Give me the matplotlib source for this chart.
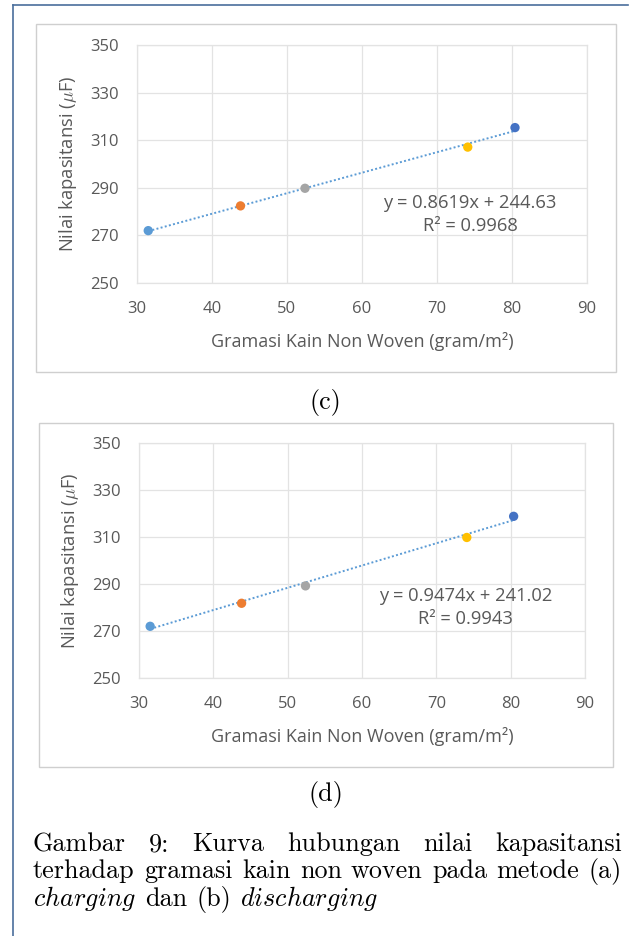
import matplotlib
matplotlib.use("Agg")
import matplotlib.pyplot as plt
from matplotlib.patches import Rectangle
from matplotlib.lines import Line2D
import numpy as np

# ---------------- data ----------------
gramasi = [31.5, 43.8, 52.4, 74.1, 80.4]
cap_c = [272.0, 282.4, 289.8, 307.1, 315.3]
cap_d = [272.0, 281.8, 289.2, 309.8, 318.8]
point_colors = ["#5B9BD5", "#ED7D31", "#A5A5A5", "#FFC000", "#4472C4"]
fit_c = (0.8619, 244.63)
fit_d = (0.9474, 241.02)
eq_c = ["y = 0.8619x + 244.63", "R² = 0.9968"]
eq_d = ["y = 0.9474x + 241.02", "R² = 0.9943"]
x_ticks = [30, 40, 50, 60, 70, 80, 90]
y_ticks = [250, 270, 290, 310, 330, 350]
xlabel = "Gramasi Kain Non Woven (gram/m²)"
ylabel = "Nilai kapasitansi ($\\mu$F)"
panel_labels = ["(c)", "(d)"]
caption_lines = [
    "Gambar 9: Kurva hubungan nilai kapasitansi",
    "terhadap gramasi kain non woven pada metode (a)",
]
caption_last = ["$\\mathit{charging}$", "dan", "(b)", "$\\mathit{discharging}$"]

W, H = 629, 936
DPI = 100
plt.rcParams["mathtext.fontset"] = "cm"
fig = plt.figure(figsize=(W / DPI, H / DPI), dpi=DPI)
fig.patch.set_facecolor("white")

def fx(px):
    return px / W

def fy(py):
    return 1 - py / H

# outer frame (left, top)
frame_col = "#4a6e9c"
fig.add_artist(Line2D([fx(13), fx(13)], [0, fy(5)], color=frame_col, lw=1.2, transform=fig.transFigure))
fig.add_artist(Line2D([fx(13), fx(628)], [fy(5), fy(5)], color=frame_col, lw=1.2, transform=fig.transFigure))

GRID = "#e3e3e3"
TXT = "#595959"
CHART_FONT = "Open Sans"

def panel(box, plot, yvals, fit, eq, eq_pos):
    bl, bt, br, bb = box
    fig.add_artist(Rectangle((fx(bl), fy(bb)), fx(br) - fx(bl), fy(bt) - fy(bb),
                             transform=fig.transFigure, fill=False,
                             edgecolor="#cfcfcf", lw=1.0))
    l, t, r, b = plot
    ax = fig.add_axes([fx(l), fy(b), fx(r) - fx(l), fy(t) - fy(b)])
    ax.set_xlim(30, 90)
    ax.set_ylim(250, 350)
    ax.set_xticks(x_ticks)
    ax.set_yticks(y_ticks)
    ax.grid(True, color=GRID, lw=0.9)
    ax.set_axisbelow(True)
    for s in ax.spines.values():
        s.set_color(GRID)
        s.set_linewidth(0.9)
    ax.tick_params(length=0, labelsize=12, colors=TXT)
    ax.tick_params(axis="x", pad=13)
    ax.tick_params(axis="y", pad=13)
    for lab in ax.get_xticklabels() + ax.get_yticklabels():
        lab.set_fontfamily(CHART_FONT)
    xs = np.array([gramasi[0], gramasi[-1]])
    ax.plot(xs, fit[0] * xs + fit[1], color="#5B9BD5", lw=1.4, ls=(0, (1, 1.2)), zorder=2)
    ax.scatter(gramasi, yvals, c=point_colors, s=45, zorder=3, edgecolors="none")
    ax.set_xlabel(xlabel, fontsize=13, color=TXT, fontfamily=CHART_FONT, labelpad=11)
    ax.set_ylabel(ylabel, fontsize=13.2, color=TXT, fontfamily=CHART_FONT, labelpad=8)
    ax.text(eq_pos[0], eq_pos[1], eq[0] + "\n" + eq[1], ha="center", va="center",
            fontsize=13.2, color=TXT, fontfamily=CHART_FONT, linespacing=1.3)
    return ax

panel((36, 24, 616, 372), (137, 45, 587, 283), cap_c, fit_c, eq_c, (74.4, 278.8))
panel((39, 423, 613, 767), (139, 443, 585, 678), cap_d, fit_d, eq_d, (73.9, 280.0))

SERIF = "cmr10"
CAP_FS = 18.8
fig.text(fx(325), fy(403), panel_labels[0], ha="center", va="center", fontsize=CAP_FS, fontfamily=SERIF)
fig.text(fx(326), fy(795), panel_labels[1], ha="center", va="center", fontsize=CAP_FS, fontfamily=SERIF)

# justified caption lines
renderer = fig.canvas.get_renderer()
x_left, x_right = 33, 622
baselines = [851, 878, 906]
for line, base in zip(caption_lines, baselines[:2]):
    words = line.split(" ")
    texts = [fig.text(0, fy(base), w, ha="left", va="baseline", fontsize=CAP_FS, fontfamily=SERIF) for w in words]
    widths = [t.get_window_extent(renderer).width for t in texts]
    gap = (x_right - x_left - sum(widths)) / (len(words) - 1)
    x = x_left
    for t, w in zip(texts, widths):
        t.set_x(fx(x))
        x += w + gap

# last line: natural spacing
sp = fig.text(0, 0, "a b", fontsize=CAP_FS, fontfamily=SERIF)
ab = fig.text(0, 0, "ab", fontsize=CAP_FS, fontfamily=SERIF)
space_w = sp.get_window_extent(renderer).width - ab.get_window_extent(renderer).width
sp.remove(); ab.remove()
x = x_left
for w in caption_last:
    t = fig.text(fx(x), fy(baselines[2]), w, ha="left", va="baseline", fontsize=CAP_FS, fontfamily=SERIF)
    x += t.get_window_extent(renderer).width + space_w

fig.savefig("out.png", dpi=DPI, facecolor="white")
